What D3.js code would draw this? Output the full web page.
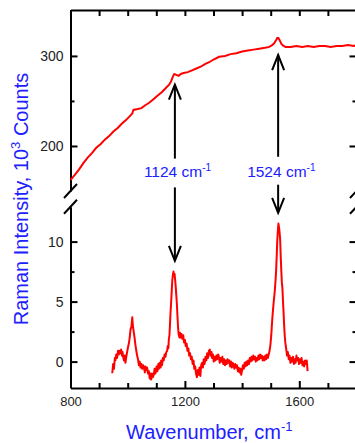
<!DOCTYPE html>
<html>
<head>
<meta charset="utf-8">
<script src="https://cdn.jsdelivr.net/npm/d3@7"></script>
<style>
body { margin: 0; background: #fff; }
svg { display: block; font-family: "Liberation Sans", Arial, sans-serif; }
</style>
</head>
<body>
<div class="chart"></div>
<script>
var width = 355, height = 443;

// top panel: raw spectrum, 10^3 counts
var rawWavenumber = [800, 815, 830, 845, 860, 875, 890, 905, 920, 935, 950, 965, 980, 995, 1010, 1016, 1020, 1035, 1048, 1060,
    1075, 1090, 1105, 1120, 1135, 1145, 1152, 1158, 1163, 1170, 1178, 1186, 1195, 1210, 1225, 1240, 1255, 1270, 1285, 1300,
    1320, 1340, 1360, 1380, 1400, 1420, 1440, 1460, 1480, 1495, 1505, 1512, 1518, 1523, 1527, 1532, 1538, 1545, 1552, 1570,
    1590, 1610, 1630, 1650, 1670, 1690, 1710, 1730, 1750, 1770, 1790, 1800];
var rawCounts = [162, 168, 174, 181, 187, 192, 198, 202, 207, 211, 216, 220, 225, 229, 234, 236, 240, 241, 242, 245,
    248, 252, 256, 260, 265, 268, 272, 277, 280, 279, 278, 280, 281, 282, 284, 286, 288, 291, 293, 296,
    299, 300, 302, 303, 305, 306, 307, 308, 309, 310, 312, 314, 317, 320, 320, 317, 313, 311, 310, 310,
    311, 310, 311, 310, 311, 311, 310, 311, 311, 312, 311, 312];

// bottom panel: background-subtracted spectrum
var diffWavenumber = [946, 949, 952, 955, 957, 960, 963, 966, 969, 972, 975, 977, 980, 982, 984, 987, 990, 992, 995, 998,
    1001, 1004, 1007, 1010, 1013, 1016, 1018, 1021, 1024, 1027, 1030, 1033, 1036, 1039, 1042, 1045, 1048, 1051, 1054, 1057,
    1060, 1062, 1065, 1068, 1071, 1074, 1077, 1080, 1082, 1085, 1088, 1091, 1094, 1097, 1101, 1104, 1107, 1109, 1112, 1115,
    1117, 1120, 1123, 1126, 1129, 1132, 1135, 1138, 1140, 1142, 1144, 1146, 1148, 1150, 1152, 1154, 1156, 1158, 1160, 1162,
    1164, 1166, 1168, 1170, 1172, 1174, 1176, 1178, 1181, 1183, 1185, 1188, 1191, 1194, 1197, 1200, 1203, 1206, 1209, 1212,
    1215, 1218, 1221, 1224, 1227, 1230, 1233, 1236, 1239, 1242, 1245, 1248, 1251, 1254, 1257, 1260, 1263, 1266, 1269, 1272,
    1275, 1278, 1281, 1284, 1287, 1290, 1293, 1295, 1298, 1301, 1304, 1307, 1310, 1313, 1316, 1319, 1322, 1325, 1328, 1331,
    1334, 1337, 1340, 1343, 1346, 1349, 1352, 1355, 1358, 1361, 1364, 1367, 1370, 1373, 1376, 1379, 1382, 1385, 1388, 1391,
    1394, 1397, 1400, 1403, 1406, 1409, 1412, 1415, 1418, 1421, 1424, 1427, 1430, 1433, 1436, 1439, 1442, 1445, 1448, 1451,
    1454, 1457, 1460, 1463, 1466, 1469, 1472, 1475, 1478, 1481, 1484, 1487, 1490, 1493, 1496, 1499, 1502, 1504, 1506, 1508,
    1511, 1514, 1517, 1519, 1521, 1523, 1525, 1527, 1529, 1531, 1533, 1535, 1537, 1539, 1541, 1543, 1545, 1547, 1549, 1551,
    1554, 1557, 1560, 1563, 1566, 1569, 1572, 1575, 1578, 1581, 1584, 1587, 1590, 1593, 1596, 1599, 1602, 1605, 1608, 1611,
    1614, 1617, 1620, 1623, 1626, 1629];
var diffCounts = [-0.97, -0.2, -0.6, 0.3, 0.1, 0.6, 0.3, 0.9, 0.6, 0.9, 0.7, 1.0, 0.5, 0.8, 0.4, 0.1, 0.5, -0.1, 0.4, 0.8,
    1.2, 1.5, 2.0, 2.7, 2.9, 3.7, 3.0, 2.5, 2.0, 1.4, 0.9, 0.5, 0.2, -0.3, 0.0, -0.5, -0.2, -0.6, -0.3, -0.5,
    -0.9, -0.4, -0.7, -0.5, -1.0, -0.8, -1.4, -1.0, -1.5, -1.0, -1.3, -1.1, -0.6, -1.0, -0.4, -0.8, -0.2, -0.6, -0.1, -0.5,
    0.1, -0.3, 0.3, 0.1, 0.6, 0.4, 0.8, 0.9, 1.3, 1.1, 1.9, 2.2, 3.2, 4.2, 5.0, 5.9, 6.8, 7.2, 7.5, 7.2,
    7.3, 6.8, 6.2, 5.5, 4.8, 3.8, 2.9, 2.3, 2.0, 2.4, 2.0, 2.3, 1.9, 2.2, 1.6, 1.8, 1.3, 1.5, 0.9, 1.1,
    0.5, 0.7, 0.2, 0.4, -0.2, 0.1, -0.6, -0.4, -1.0, -1.3, -0.7, -1.1, -0.5, -1.2, -0.3, -0.1, -0.5, 0.2, -0.2, 0.4,
    0.1, 0.7, 0.3, 0.9, 1.0, 0.5, 0.8, 0.3, 0.6, 0.0, 0.4, 0.1, 0.5, 0.2, 0.6, 0.4, -0.1, 0.3, 0.0, 0.4,
    -0.2, 0.2, -0.3, 0.1, -0.2, 0.2, -0.1, 0.1, -0.4, 0.0, -0.5, -0.1, -0.3, -0.6, -0.2, -0.5, -0.3, -0.8, -0.5, -0.9,
    -0.6, -1.1, -0.7, -0.3, -0.6, -0.1, -0.4, 0.0, -0.3, 0.1, -0.2, 0.3, 0.0, 0.4, 0.1, 0.5, 0.2, 0.4, 0.0, 0.3,
    0.1, 0.5, 0.2, 0.6, 0.3, 0.5, 0.1, 0.4, 0.1, 0.5, 0.2, 0.6, 0.3, 0.6, 0.9, 1.4, 2.2, 3.0, 3.7, 4.3,
    5.1, 5.8, 6.8, 7.6, 8.8, 10.1, 10.9, 11.5, 11.2, 10.8, 10.2, 8.8, 7.6, 6.6, 6.1, 5.0, 4.1, 3.0, 2.2, 1.6,
    1.1, 0.5, 0.8, 0.2, 0.5, -0.1, 0.3, 0.0, 0.4, -0.2, 0.2, -0.1, 0.5, 0.1, 0.3, -0.2, 0.2, -0.1, 0.3, -0.3,
    0.0, -0.4, 0.1, -0.2, 0.1, -0.8];

var xMajorTicks = [800, 1200, 1600];
var xMinorTicks = [900, 1000, 1100, 1300, 1400, 1500, 1700];
var topMajorTicks = [200, 300];
var topMinorTicks = [250];
var bottomMajorTicks = [0, 5, 10];
var bottomMinorTicks = [2.5, 7.5];

var peakLabels = ['1124', '1524'];
var peakWavenumbers = [1165, 1526];

var blue = '#2020ff';
var red = '#ff0000';

var svg = d3.select('.chart')
    .append('svg')
    .attr('width', width)
    .attr('height', height);

var left = 70.5, right = 356.5;

var x = d3.scaleLinear().domain([800, 1800]).range([left, right]);
var yTop = d3.scaleLinear().domain([150, 351]).range([191, 10]);
var yBottom = d3.scaleLinear().domain([-2.2, 12.9]).range([388, 206.8]);

function styleAxis(g) {
    g.selectAll('.domain').attr('stroke', '#000').attr('stroke-width', 2);
    g.selectAll('.tick line').attr('stroke', '#000').attr('stroke-width', 2);
    g.selectAll('.tick text').attr('fill', '#222').style('font-size', '13px');
}

// x axes (bottom with labels, top mirrored)
svg.append('g')
    .attr('transform', 'translate(0,388)')
    .call(d3.axisBottom(x).tickValues(xMinorTicks).tickSize(-5).tickSizeOuter(0).tickFormat(''))
    .call(styleAxis);
svg.append('g')
    .attr('transform', 'translate(0,388)')
    .call(d3.axisBottom(x).tickValues(xMajorTicks).tickSize(-7).tickSizeOuter(0).tickPadding(9).tickFormat(d3.format('d')))
    .call(styleAxis)
    .call(g => g.select('.domain').remove());
svg.append('g')
    .attr('transform', 'translate(0,10)')
    .call(d3.axisTop(x).tickValues(xMinorTicks.concat(xMajorTicks)).tickSize(-6).tickSizeOuter(0).tickFormat(''))
    .call(styleAxis);

// y axes, left with labels, right mirrored
function yAxes(scale, major, minor) {
    svg.append('g')
        .attr('transform', `translate(${left},0)`)
        .call(d3.axisLeft(scale).tickValues(minor).tickSize(-4).tickSizeOuter(0).tickFormat(''))
        .call(styleAxis);
    svg.append('g')
        .attr('transform', `translate(${left},0)`)
        .call(d3.axisLeft(scale).tickValues(major).tickSize(-7).tickSizeOuter(0).tickPadding(7).tickFormat(d3.format('d')))
        .call(styleAxis)
        .call(g => g.select('.domain').remove())
        .call(g => g.selectAll('.tick text').style('font-size', '14px'));
    svg.append('g')
        .attr('transform', `translate(${right},0)`)
        .call(d3.axisRight(scale).tickValues(minor).tickSize(-4).tickSizeOuter(0).tickFormat(''))
        .call(styleAxis);
    svg.append('g')
        .attr('transform', `translate(${right},0)`)
        .call(d3.axisRight(scale).tickValues(major).tickSize(-7).tickSizeOuter(0).tickFormat(''))
        .call(styleAxis)
        .call(g => g.select('.domain').remove());
}
yAxes(yTop, topMajorTicks, topMinorTicks);
yAxes(yBottom, bottomMajorTicks, bottomMinorTicks);

// axis break marks
[left, right].forEach(function (bx) {
    [yTop.range()[0], yBottom.range()[1]].forEach(function (by) {
        svg.append('line')
            .attr('x1', bx - 6.5).attr('y1', by + 7)
            .attr('x2', bx + 6.5).attr('y2', by - 7)
            .attr('stroke', '#000').attr('stroke-width', 2);
    });
});

// spectra
var topLine = d3.line()
    .x((d, i) => x(rawWavenumber[i]))
    .y(d => yTop(d));
svg.append('path')
    .datum(rawCounts)
    .attr('d', topLine)
    .attr('fill', 'none')
    .attr('stroke', red)
    .attr('stroke-width', 2);

var bottomLine = d3.line()
    .x((d, i) => x(diffWavenumber[i]))
    .y(d => yBottom(d));
svg.append('path')
    .datum(diffCounts)
    .attr('d', bottomLine)
    .attr('fill', 'none')
    .attr('stroke', red)
    .attr('stroke-width', 2)
    .attr('stroke-linejoin', 'round');

// arrows pointing to the peaks
function arrow(ax, y1, y2) {
    var dir = y2 < y1 ? 1 : -1;
    var g = svg.append('g')
        .attr('stroke', '#000')
        .attr('stroke-width', 2)
        .attr('fill', 'none');
    g.append('line').attr('x1', ax).attr('y1', y1).attr('x2', ax).attr('y2', y2);
    g.append('path')
        .attr('d', `M${ax - 6},${y2 + dir * 15}L${ax},${y2}L${ax + 6},${y2 + dir * 15}`);
}
var upTips = [268, 301], upTails = [186, 188], downStarts = [154, 157], downTips = [8.4, 12.4];
peakWavenumbers.forEach(function (w, i) {
    var ax = x(w);
    arrow(ax, yTop(upTails[i]), yTop(upTips[i]));
    arrow(ax, yTop(downStarts[i]), yBottom(downTips[i]));
    var t = svg.append('text')
        .attr('x', ax - 31)
        .attr('y', 177)
        .attr('fill', blue)
        .style('font-size', '15.5px')
        .text(peakLabels[i] + ' cm');
    t.append('tspan').attr('dy', -6).style('font-size', '10px').text('-1');
});

// axis titles
var yTitle = svg.append('text')
    .attr('transform', 'translate(28,199) rotate(-90)')
    .attr('text-anchor', 'middle')
    .attr('fill', blue)
    .style('font-size', '20px')
    .text('Raman Intensity, 10');
yTitle.append('tspan').attr('dy', -8).style('font-size', '13px').text('3');
yTitle.append('tspan').attr('dy', 8).text(' Counts');

var xTitle = svg.append('text')
    .attr('x', 126)
    .attr('y', 439)
    .attr('fill', blue)
    .style('font-size', '20px')
    .text('Wavenumber, cm');
xTitle.append('tspan').attr('dy', -8).style('font-size', '13px').text('-1');
</script>
</body>
</html>
